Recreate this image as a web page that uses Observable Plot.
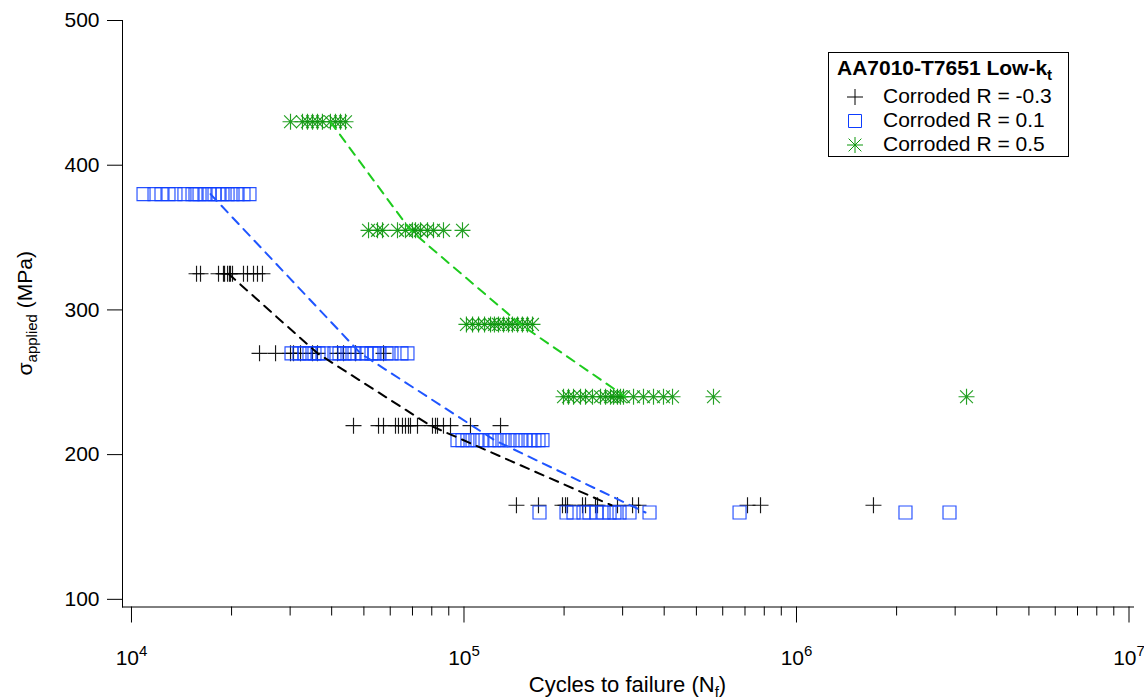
<!DOCTYPE html>
<html><head><meta charset="utf-8">
<script src="https://cdn.jsdelivr.net/npm/d3@7"></script>
<script src="https://cdn.jsdelivr.net/npm/@observablehq/plot@0.6"></script>
<style>
body{margin:0;background:#fff;}
#wrap{width:1144px;height:698px;}
</style></head><body><div id="wrap"></div>
<script>
// ---- data ----
const legendTitle = "AA7010-T7651 Low-k";
const legendTitleSub = "t";
const seriesNames = ["Corroded R = -0.3", "Corroded R = 0.1", "Corroded R = 0.5"];
const markerColors = ["#000000", "#0d3dff", "#0c960c"];
const fitColors = ["#000000", "#1f55ff", "#1ecb1e"];

const blackStress = [325, 270, 220, 165];
const blackCycles = [
  [15690, 16130, 18270, 18910, 19050, 19450, 19710, 19850, 20130, 21720, 22330, 23280, 23930, 24770],
  [24270, 27120, 30080, 30710, 32240, 35030, 36260, 41650, 43420, 47180, 57270],
  [46530, 55330, 57270, 62230, 63530, 65310, 66690, 68090, 69040, 72470, 80400, 82090, 83230, 86760, 91080, 104600, 128800],
  [143800, 167500, 197800, 202000, 204800, 227200, 232000, 248600, 252100, 289500, 321300, 334900, 712300, 779500, 1704000]
];
const blueStress = [380, 270, 210, 160];
const blueCycles = [
  [10870, 11730, 12310, 12920, 13560, 14430, 15260, 15580, 16020, 16580, 17170, 17770, 18270, 18780, 19450, 20130, 20840, 21720, 22640],
  [30290, 32010, 33140, 34300, 35510, 36510, 37790, 40790, 42230, 43710, 45250, 46850, 49180, 50910, 52700, 53810, 55710, 58470, 60530, 64860, 67610],
  [95610, 98970, 102400, 106100, 109800, 113600, 119300, 123500, 127900, 132400, 137000, 142900, 147900, 153100, 158500, 162900, 167500, 172200],
  [168700, 203400, 213500, 228800, 238500, 250300, 262800, 274000, 283500, 293600, 314600, 361400, 674100, 2127000, 2885000]
];
const greenStress = [430, 355, 290, 240];
const greenCycles = [
  [30080, 32680, 33830, 35030, 36260, 37520, 39660, 41070, 42520, 44020],
  [51630, 54940, 56880, 63100, 66690, 70010, 71480, 74000, 77680, 80960, 86760, 98970],
  [101700, 106100, 110600, 115300, 120200, 123500, 127000, 131500, 136100, 139900, 144900, 149900, 155200, 160700],
  [199200, 206200, 213500, 224100, 232000, 243500, 257400, 266500, 275800, 281600, 289500, 295600, 301800, 323500, 346600, 371500, 398100, 423800, 562800, 3246000]
];
const blackFitCycles = [19570, 36260, 79310, 277700];
const blueFitCycles = [17290, 48840, 123500, 351400];
const greenFitCycles = [39660, 69040, 147900, 306000];

const xMajorTicks = [1e4, 1e5, 1e6, 1e7];
const xMinorTicks = [2e4,3e4,4e4,5e4,6e4,7e4,8e4,9e4,2e5,3e5,4e5,5e5,6e5,7e5,8e5,9e5,2e6,3e6,4e6,5e6,6e6,7e6,8e6,9e6];
const yTicks = [100, 200, 300, 400, 500];
const xDomain = [9397, 1.0316e7];
const yDomain = [94.7, 500];

// ---- symbols ----
const plusSym = {draw(c, size){ const r = Math.sqrt(size/Math.PI); c.moveTo(-r,0); c.lineTo(r,0); c.moveTo(0,-r); c.lineTo(0,r);} };
const squareSym = {draw(c, size){ const r = Math.sqrt(size/Math.PI); c.moveTo(-r,-r); c.lineTo(r,-r); c.lineTo(r,r); c.lineTo(-r,r); c.closePath();} };
const starSym = {draw(c, size){ const r = Math.sqrt(size/Math.PI); const d = r*0.8;
  c.moveTo(-r,0); c.lineTo(r,0); c.moveTo(0,-r); c.lineTo(0,r);
  c.moveTo(-d,-d); c.lineTo(d,d); c.moveTo(-d,d); c.lineTo(d,-d);} };
const symbols = [plusSym, squareSym, starSym];
const symbolR = [8, 6.5, 8];

const rows = (stress, cycles) => stress.flatMap((s, i) => cycles[i].map(n => ({n, s})));
const fitRows = (stress, cycles) => stress.map((s, i) => ({n: cycles[i], s}));
const series = [
  {pts: rows(blackStress, blackCycles), fit: fitRows(blackStress, blackFitCycles)},
  {pts: rows(blueStress, blueCycles), fit: fitRows(blueStress, blueFitCycles)},
  {pts: rows(greenStress, greenCycles), fit: fitRows(greenStress, greenFitCycles)}
];

const W = 1144, H = 698, mL = 122, mR = 11, mT = 20, mB = 91.5;
const frameH = H - mT - mB;

const plot = Plot.plot({
  width: W, height: H, marginLeft: mL, marginRight: mR, marginTop: mT, marginBottom: mB,
  style: {fontFamily: '"Liberation Sans", Arial, sans-serif', fontSize: "21px", color: "#000", background: "#fff", overflow: "visible"},
  x: {type: "log", domain: xDomain, ticks: xMajorTicks, tickSize: 16, tickPadding: 27,
      tickFormat: d => "10^" + Math.round(Math.log10(d)), label: null, line: true},
  y: {domain: yDomain, ticks: yTicks, tickSize: 15, tickPadding: 8, label: null, line: true},
  marks: [
    Plot.tickX(xMinorTicks, {x: d => d, insetTop: frameH - 9, dy: 9, stroke: "#000"}),
    ...series.map((s, i) => Plot.dot(s.pts, {x: "n", y: "s", symbol: symbols[i], r: symbolR[i],
        fill: "none", stroke: markerColors[i], strokeWidth: 1.15, strokeOpacity: 0.9})),
    ...series.map((s, i) => Plot.line(s.fit, {x: "n", y: "s", stroke: fitColors[i], strokeWidth: 2, strokeDasharray: "9,7"}))
  ]
});
document.getElementById("wrap").appendChild(plot);

const svg = d3.select(plot);
// superscript tick labels
svg.selectAll("text").each(function(){
  const t = d3.select(this); const m = /^10\^(\d+)$/.exec(this.textContent);
  if (!m) return;
  t.text("");
  t.append("tspan").text("10");
  t.append("tspan").attr("dy", "-0.62em").attr("font-size", "15px").text(m[1]);
});
// axis titles
const ff = '"Liberation Sans", Arial, sans-serif';
const xl = svg.append("text").attr("x", mL + (W - mL - mR)/2).attr("y", 692).attr("text-anchor", "middle")
  .attr("font-family", ff).attr("font-size", "22px").attr("fill", "#000");
xl.append("tspan").text("Cycles to failure (N");
xl.append("tspan").attr("font-size", "15px").attr("dy", 5).text("f");
xl.append("tspan").attr("dy", -5).text(")");
const yl = svg.append("text").attr("transform", `translate(32,${mT + frameH/2}) rotate(-90)`).attr("text-anchor", "middle")
  .attr("font-family", ff).attr("font-size", "21px").attr("fill", "#000");
yl.append("tspan").text("σ");
yl.append("tspan").attr("font-size", "15px").attr("dy", 5).text("applied");
yl.append("tspan").attr("dy", -5).text(" (MPa)");
// legend
const lg = svg.append("g").attr("font-family", ff).attr("font-size", "21px").attr("text-anchor", "start");
lg.append("rect").attr("x", 828.5).attr("y", 52.5).attr("width", 240).attr("height", 104).attr("fill", "#fff").attr("stroke", "#000");
const lt = lg.append("text").attr("x", 837).attr("y", 75).attr("font-weight", "bold").attr("fill", "#000").attr("text-anchor", "start");
lt.append("tspan").text(legendTitle);
lt.append("tspan").attr("font-size", "15px").attr("dy", 5).text(legendTitleSub);
seriesNames.forEach((name, i) => {
  lg.append("path").attr("transform", `translate(855,${97 + 24*i})`)
    .attr("d", d3.symbol().type(symbols[i]).size(Math.PI * symbolR[i] * symbolR[i])())
    .attr("fill", "none").attr("stroke", markerColors[i]).attr("stroke-width", 1);
  lg.append("text").attr("x", 883).attr("y", 103 + 24*i).attr("fill", "#000").attr("text-anchor", "start").text(name);
});
</script>
</body></html>
